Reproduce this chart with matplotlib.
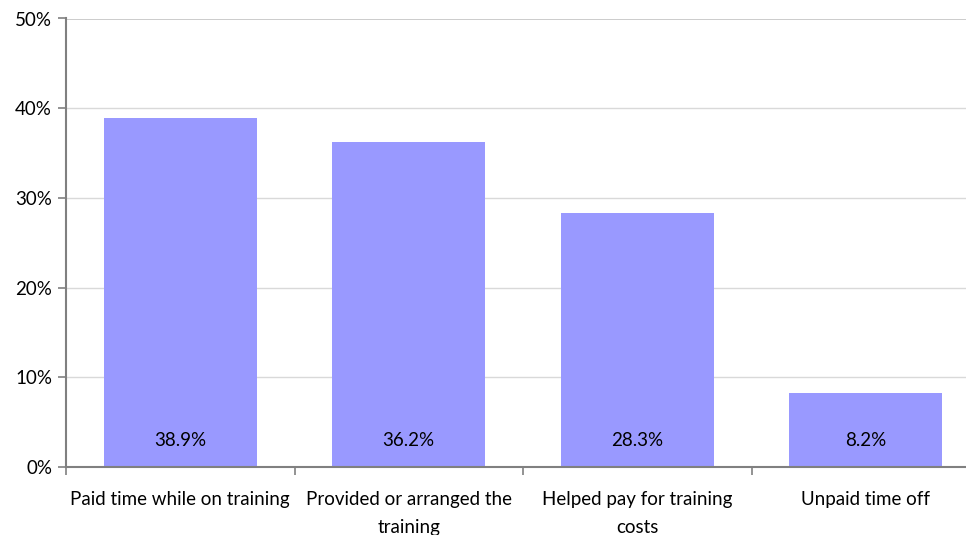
import numpy as np
import matplotlib
matplotlib.use("Agg")
import matplotlib.pyplot as plt

categories = ["Paid time while on training", "Provided or arranged the\ntraining",
              "Helped pay for training\ncosts", "Unpaid time off"]
values = [38.9, 36.2, 28.3, 8.2]
y_ticks = [0, 10, 20, 30, 40, 50]

plt.rcParams['font.family'] = ['Lato', 'DejaVu Sans']

fig = plt.figure(figsize=(9.66, 5.35), dpi=100)
ax = fig.add_axes([66 / 966, 68 / 535, 914 / 966, 448.5 / 535])

x = np.arange(len(categories))
ax.bar(x, values, width=0.67, color="#9999ff", zorder=2)
for xi, v in zip(x, values):
    ax.text(xi, 2.9, f"{v:.1f}%", ha="center", va="center", fontsize=13.5, color="black", zorder=3)

ax.set_xlim(-0.5, len(categories) - 0.5)
ax.set_ylim(0, 50)
ax.set_yticks(y_ticks)
ax.set_yticklabels([f"{t}%" for t in y_ticks], fontsize=13.5)
for t in y_ticks[1:]:
    ax.axhline(t, color="#c8c8c8" if t == 50 else "#d9d9d9", lw=2.0 if t == 50 else 1.0, zorder=1)

ax.set_xticks(x)
ax.set_xticklabels(categories, fontsize=13.5, linespacing=1.8)
ax.set_xticks(np.arange(-0.5, len(categories)), minor=True)
ax.tick_params(axis="x", which="major", length=0, pad=17)
ax.tick_params(axis="x", which="minor", length=6, color="#808080", width=1.2)
ax.tick_params(axis="y", length=6, color="#808080", width=1.2, pad=4)

for s in ["top", "right"]:
    ax.spines[s].set_visible(False)
for s in ["left", "bottom"]:
    ax.spines[s].set_color("#808080")
    ax.spines[s].set_linewidth(1.5)

fig.savefig("out.png", dpi=100)
